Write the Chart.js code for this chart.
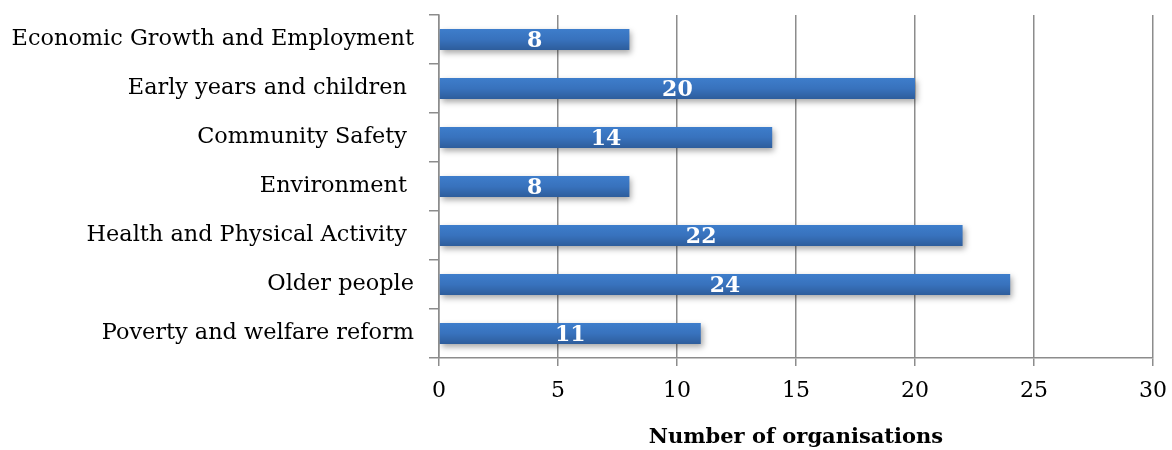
<!DOCTYPE html>
<html>
<head>
<meta charset="utf-8">
<script src="https://cdn.jsdelivr.net/npm/chart.js@4/dist/chart.umd.min.js"></script>
<style>
  html, body { margin: 0; padding: 0; background: #fff; }
  #wrap { width: 1172px; height: 450px; }
</style>
</head>
<body>
<div id="wrap"><canvas id="orgChart"></canvas></div>
<script>
const categories = [
  "Economic Growth and Employment",
  "Early years and children ",
  "Community Safety ",
  "Environment ",
  "Health and Physical Activity ",
  "Older people",
  "Poverty and welfare reform"
];
const organisations = [8, 20, 14, 8, 22, 24, 11];
const xTicks = [0, 5, 10, 15, 20, 25, 30];

const serif = "'DejaVu Serif', 'Liberation Serif', serif";
const gridGray = "#8c8c8c";

// vertical gradient per bar, lighter on top
function barFill(context) {
  const chart = context.chart;
  const yScale = chart.scales.y;
  if (!yScale || context.dataIndex === undefined) return "#3a72bf";
  const yc = yScale.getPixelForValue(context.dataIndex);
  if (!Number.isFinite(yc)) return "#3a72bf";
  const half = 11;
  const g = chart.ctx.createLinearGradient(0, yc - half, 0, yc + half);
  g.addColorStop(0, "#3e7ecc");
  g.addColorStop(0.5, "#3872bd");
  g.addColorStop(1, "#2d5c9a");
  return g;
}

const barShadow = {
  id: "barShadow",
  beforeDatasetsDraw(chart) {
    const ctx = chart.ctx;
    ctx.save();
    ctx.shadowColor = "rgba(0,0,0,0.35)";
    ctx.shadowBlur = 6;
    ctx.shadowOffsetX = 2;
    ctx.shadowOffsetY = 3;
  },
  afterDatasetsDraw(chart) {
    chart.ctx.restore();
  }
};

const valueLabels = {
  id: "valueLabels",
  afterDatasetsDraw(chart) {
    const ctx = chart.ctx;
    const meta = chart.getDatasetMeta(0);
    ctx.save();
    ctx.font = "bold 22px " + serif;
    ctx.fillStyle = "#ffffff";
    ctx.textAlign = "center";
    ctx.textBaseline = "middle";
    meta.data.forEach((bar, i) => {
      const x = (bar.x + bar.base) / 2;
      ctx.fillText(String(organisations[i]), x, bar.y + 2);
    });
    ctx.restore();
  }
};

new Chart(document.getElementById("orgChart"), {
  type: "bar",
  data: {
    labels: categories,
    datasets: [{
      data: organisations,
      backgroundColor: barFill,
      borderWidth: 0,
      barPercentage: 0.43,
      categoryPercentage: 1.0
    }]
  },
  options: {
    indexAxis: "y",
    responsive: true,
    maintainAspectRatio: false,
    animation: false,
    layout: { padding: { top: 15, right: 19, left: 0, bottom: 0 } },
    plugins: {
      legend: { display: false },
      tooltip: { enabled: false }
    },
    scales: {
      x: {
        min: 0,
        max: 30,
        afterBuildTicks(scale) {
          scale.ticks = xTicks.map(v => ({ value: v }));
        },
        afterFit(scale) {
          scale.height = 92;
          scale.paddingLeft = 0;
          scale.paddingRight = 0;
        },
        grid: { color: gridGray, lineWidth: 1.5, tickLength: 8 },
        border: { color: gridGray, width: 1.5 },
        ticks: {
          color: "#000",
          font: { family: serif, size: 22 },
          padding: 12
        },
        title: {
          display: true,
          text: "Number of organisations",
          color: "#000",
          font: { family: serif, size: 21, weight: "bold" },
          padding: { top: 19, bottom: 0 }
        }
      },
      y: {
        afterFit(scale) {
          scale.width = 439;
          scale.paddingTop = 0;
          scale.paddingBottom = 0;
        },
        grid: {
          drawOnChartArea: false,
          offset: true,
          color: gridGray,
          lineWidth: 1.5,
          tickLength: 10
        },
        border: { color: gridGray, width: 1.5 },
        ticks: {
          color: "#000",
          font: { family: serif, size: 22.4 },
          padding: 15
        }
      }
    }
  },
  plugins: [barShadow, valueLabels]
});
</script>
</body>
</html>
